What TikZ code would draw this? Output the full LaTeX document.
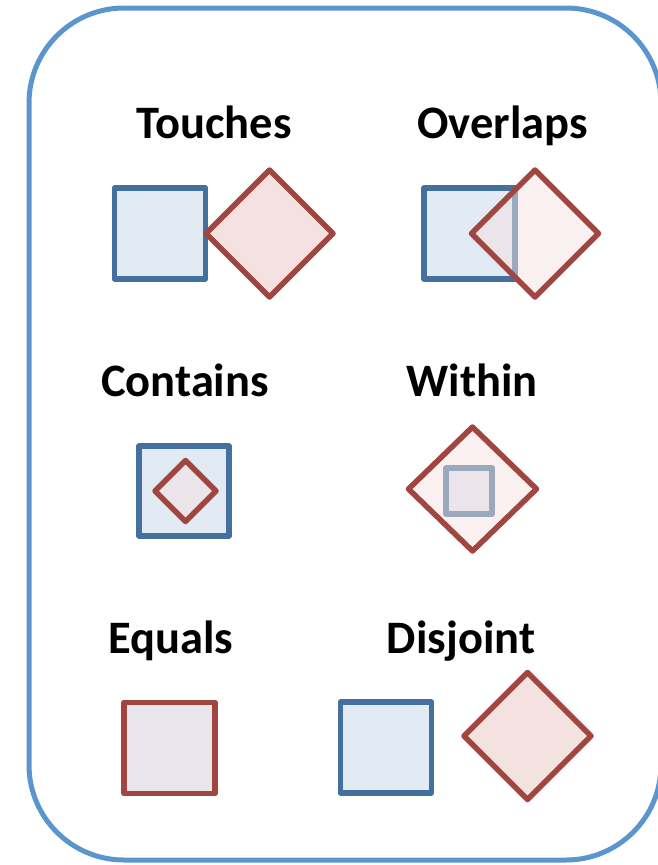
\documentclass[tikz,border=0pt]{standalone}
\usepackage{fontspec}
\setmainfont{Carlito}
\usetikzlibrary{shapes.geometric}
\definecolor{frameC}{RGB}{91,149,205}
\definecolor{blueS}{RGB}{67,112,157}
\definecolor{blueF}{RGB}{226,234,244}
\definecolor{redS}{RGB}{160,69,64}
\definecolor{pinkF}{RGB}{244,226,224}
\definecolor{mixF}{RGB}{232,230,236}
\tikzset{
  sq/.style={rectangle, draw=blueS, fill=blueF, line width=5.5pt, line join=round, inner sep=0pt, outer sep=0pt},
  dia/.style={diamond, draw=redS, fill=pinkF, line width=5.5pt, line join=round, inner sep=0pt, outer sep=0pt},
  glass/.style={fill opacity=0.5},
  lbl/.style={font=\fontsize{46.5}{50}\selectfont\bfseries, anchor=base, inner sep=0pt}
}
\begin{document}
\begin{tikzpicture}[x=1pt,y=-1pt]
\useasboundingbox (0,0) rectangle (657,865);
\draw[frameC, line width=5pt, rounded corners=95pt] (29,8) rectangle (661,860);

% Touches
\node[lbl] (lTouches) at (214,138) {Touches};
\node[sq, minimum size=91] (tSq) at (160,233.5) {};
\node[dia, minimum width=127, minimum height=127] (tDia) at (269.5,233.5) {};

% Overlaps
\node[lbl] (lOverlaps) at (502.5,138) {Overlaps};
\node[sq, minimum size=91] (oSq) at (469.5,233.5) {};
\node[dia, glass, minimum width=127, minimum height=127] (oDia) at (535,233.5) {};

% Contains
\node[lbl] (lContains) at (185,396) {Contains};
\node[sq, minimum size=90] (cSq) at (184,491) {};
\node[dia, glass, minimum width=61, minimum height=61] (cDia) at (185.5,491) {};

% Within
\node[lbl] (lWithin) at (472,396) {Within};
\node[sq, minimum size=46] (wSq) at (469,491) {};
\node[dia, glass, minimum width=128, minimum height=124] (wDia) at (472.5,489) {};

% Equals
\node[lbl] (lEquals) at (170.5,653) {Equals};
\node[sq, draw=redS, fill=mixF, minimum size=91] (eSq) at (169.5,748) {};

% Disjoint
\node[lbl] (lDisjoint) at (461,653) {Disjoint};
\node[sq, minimum size=91] (dSq) at (386,747.5) {};
\node[dia, minimum width=127, minimum height=127] (dDia) at (527.5,736) {};
\end{tikzpicture}
\end{document}
